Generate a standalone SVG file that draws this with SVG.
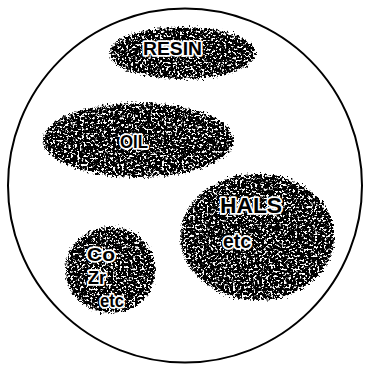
<svg xmlns="http://www.w3.org/2000/svg" width="366" height="369" viewBox="0 0 366 369">
  <defs>
    <filter id="grain" x="-6%" y="-6%" width="112%" height="112%" color-interpolation-filters="sRGB">
      <feTurbulence type="fractalNoise" baseFrequency="0.45" numOctaves="3" seed="11" result="noise"/>
      <feDisplacementMap in="SourceGraphic" in2="noise" scale="9" xChannelSelector="R" yChannelSelector="G" result="shape"/>
      <feColorMatrix in="noise" type="matrix" values="0 0 0 0 1  0 0 0 0 1  0 0 0 0 1  10 0 0 0 -5.4" result="spots"/>
      <feComposite in="spots" in2="shape" operator="atop"/>
    </filter>
    <style>
      .blob { fill: #000; filter: url(#grain); }
      .lbl { font-family: "Liberation Sans", Arial, sans-serif; font-weight: bold; fill: #000; stroke: #fff; stroke-width: 3.5; paint-order: stroke; stroke-linejoin: round; }
      .frame { fill: #fff; stroke: #000; stroke-width: 2; }
    </style>
  </defs>
  <rect width="366" height="369" fill="#fff"/>
  <circle class="frame" cx="185" cy="185.5" r="177"/>

  <g id="resin">
    <ellipse class="blob" cx="182" cy="53" rx="73" ry="26"/>
    <text class="lbl" x="143" y="55" font-size="18" textLength="59" lengthAdjust="spacingAndGlyphs">RESIN</text>
  </g>

  <g id="oil">
    <ellipse class="blob" cx="138" cy="140" rx="95" ry="37"/>
    <text class="lbl" x="120" y="148" font-size="19" textLength="28" lengthAdjust="spacingAndGlyphs">OIL</text>
  </g>

  <g id="hals">
    <ellipse class="blob" cx="257" cy="237" rx="77" ry="63"/>
    <text class="lbl" x="220" y="213" font-size="22" textLength="62" lengthAdjust="spacingAndGlyphs">HALS</text>
    <text class="lbl" x="223" y="248" font-size="20" textLength="28" lengthAdjust="spacingAndGlyphs">etc</text>
  </g>

  <g id="driers">
    <ellipse class="blob" cx="110" cy="270" rx="45" ry="43"/>
    <text class="lbl" x="87" y="261" font-size="19" textLength="28" lengthAdjust="spacingAndGlyphs">Co</text>
    <text class="lbl" x="88" y="284" font-size="19" textLength="18" lengthAdjust="spacingAndGlyphs">Zr</text>
    <text class="lbl" x="100" y="307" font-size="19" textLength="24" lengthAdjust="spacingAndGlyphs">etc</text>
  </g>

  <g id="connectors"></g>
</svg>
